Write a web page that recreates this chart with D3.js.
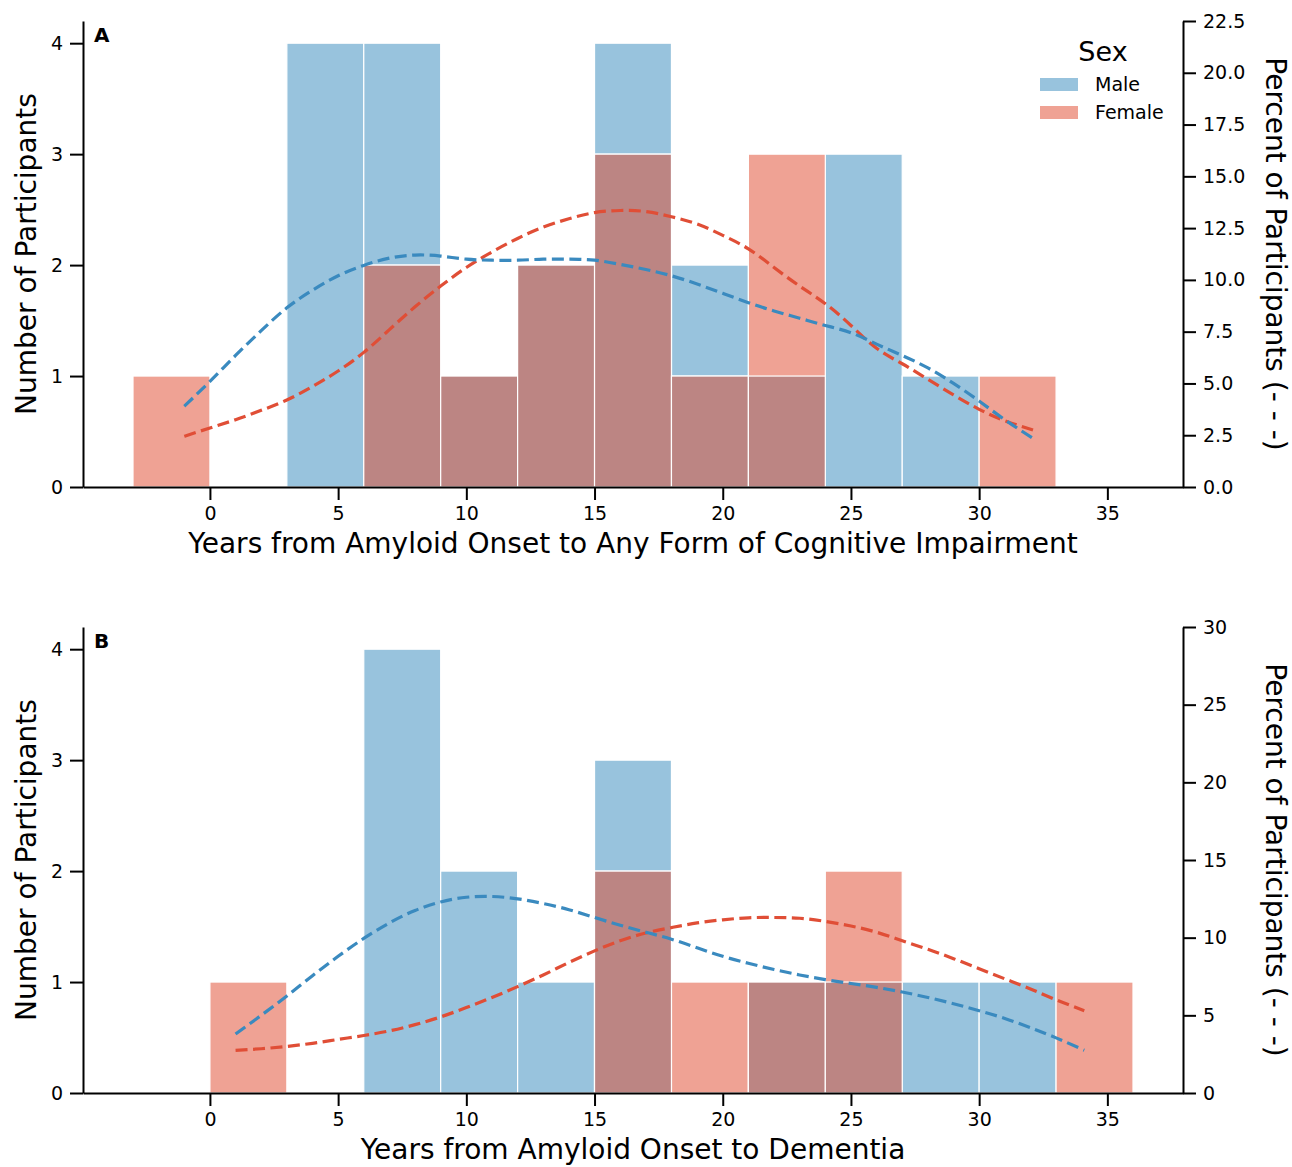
<!DOCTYPE html>
<html>
<head>
<meta charset="utf-8">
<script src="https://cdn.jsdelivr.net/npm/d3@7"></script>
<style>
  body { margin: 0; background: #fff; }
  text { font-family: "DejaVu Sans", sans-serif; fill: #000; }
</style>
</head>
<body>
<svg id="chart" width="1292" height="1167"></svg>
<script>
// histogram bins are 3 years wide
var binWidth = 3;

// panel A: any form of cognitive impairment
var binStartA = [-3, 0, 3, 6, 9, 12, 15, 18, 21, 24, 27, 30];
var maleCountA = [0, 0, 4, 4, 1, 2, 4, 2, 1, 3, 1, 0];
var femaleCountA = [1, 0, 0, 2, 1, 2, 3, 1, 3, 0, 0, 1];
var kdeMaleXA = [-1, 0, 1, 2, 3, 4, 5, 6, 7, 8, 9, 10, 11, 12, 13, 14, 15, 16, 17, 18, 19, 20, 21, 22, 23, 24, 25, 26, 27, 28, 29, 30, 31, 32.1];
var kdeMaleA = [3.9, 5.1, 6.35, 7.55, 8.65, 9.5, 10.2, 10.7, 11.05, 11.2, 11.15, 11.0, 10.95, 10.95, 11.0, 11.0, 10.95, 10.75, 10.5, 10.2, 9.8, 9.35, 8.9, 8.5, 8.15, 7.8, 7.45, 6.9, 6.35, 5.75, 5.0, 4.15, 3.25, 2.35];
var kdeFemaleXA = [-1, 0, 1, 2, 3, 4, 5, 6, 7, 8, 9, 10, 11, 12, 13, 14, 15, 16, 17, 18, 19, 20, 21, 22, 23, 24, 25, 26, 27, 28, 29, 30, 31, 32.1];
var kdeFemaleA = [2.45, 2.85, 3.25, 3.7, 4.2, 4.85, 5.6, 6.5, 7.6, 8.7, 9.7, 10.6, 11.35, 12.0, 12.55, 12.95, 13.25, 13.35, 13.3, 13.05, 12.7, 12.15, 11.5, 10.6, 9.7, 8.85, 7.8, 6.7, 5.95, 5.2, 4.45, 3.75, 3.2, 2.75];
var pctTicksA = [0, 2.5, 5, 7.5, 10, 12.5, 15, 17.5, 20, 22.5];

// panel B: dementia
var binStartB = [0, 3, 6, 9, 12, 15, 18, 21, 24, 27, 30, 33];
var maleCountB = [0, 0, 4, 2, 1, 3, 0, 1, 1, 1, 1, 0];
var femaleCountB = [1, 0, 0, 0, 0, 2, 1, 1, 2, 0, 0, 1];
var kdeMaleXB = [1, 2, 3, 4, 5, 6, 7, 8, 9, 10, 11, 12, 13, 14, 15, 16, 17, 18, 19, 20, 21, 22, 23, 24, 25, 26, 27, 28, 29, 30, 31, 32, 33, 34.1];
var kdeMaleB = [3.8, 5.0, 6.25, 7.55, 8.8, 9.95, 10.95, 11.75, 12.3, 12.6, 12.65, 12.5, 12.2, 11.8, 11.3, 10.8, 10.35, 9.9, 9.35, 8.8, 8.35, 7.95, 7.6, 7.3, 7.05, 6.8, 6.5, 6.15, 5.75, 5.3, 4.8, 4.2, 3.55, 2.75];
var kdeFemaleXB = [1, 2, 3, 4, 5, 6, 7, 8, 9, 10, 11, 12, 13, 14, 15, 16, 17, 18, 19, 20, 21, 22, 23, 24, 25, 26, 27, 28, 29, 30, 31, 32, 33, 34.1];
var kdeFemaleB = [2.75, 2.85, 3.0, 3.2, 3.45, 3.7, 4.0, 4.4, 4.9, 5.5, 6.15, 6.85, 7.6, 8.4, 9.15, 9.8, 10.3, 10.65, 10.95, 11.15, 11.28, 11.3, 11.25, 11.05, 10.75, 10.35, 9.8, 9.25, 8.65, 8.0, 7.35, 6.7, 6.0, 5.3];
var pctTicksB = [0, 5, 10, 15, 20, 25, 30];

var countTicks = [0, 1, 2, 3, 4];
var yearTicks = [0, 5, 10, 15, 20, 25, 30, 35];
var sexLabels = ["Male", "Female"];

var colors = {
    maleBar: "#98c3dd",
    femaleBar: "#efa294",
    both: "#bc8583",
    maleLine: "#3a8abf",
    femaleLine: "#e04e36"
};

var svg = d3.select("#chart");
var left = 83, right = 1183;

var x = d3.scaleLinear().domain([-4.95, 37.95]).range([left, right]);

function drawPanel(p) {
    var g = svg.append("g");
    var y = d3.scaleLinear().domain([0, 4.2]).range([p.bottom, p.top]);
    var yPct = d3.scaleLinear().domain([0, p.pctMax]).range([p.bottom, p.top]);

    var bins = p.starts.map(function (s, i) {
        return { x0: s, x1: s + binWidth, m: p.male[i], f: p.female[i] };
    });

    function bars(cls, val, fill) {
        g.append("g")
            .selectAll("rect")
            .data(bins.filter(function (d) { return val(d) > 0; }))
            .join("rect")
            .attr("class", cls)
            .attr("x", function (d) { return x(d.x0); })
            .attr("width", function (d) { return x(d.x1) - x(d.x0); })
            .attr("y", function (d) { return y(val(d)); })
            .attr("height", function (d) { return y(0) - y(val(d)); })
            .attr("fill", fill)
            .attr("stroke", "white")
            .attr("stroke-width", 1.2);
    }
    bars("male", function (d) { return d.m; }, colors.maleBar);
    bars("female", function (d) { return d.f; }, colors.femaleBar);
    bars("both", function (d) { return Math.min(d.m, d.f); }, colors.both);

    var line = d3.line()
        .x(function (d) { return x(d[0]); })
        .y(function (d) { return yPct(d[1]); })
        .curve(d3.curveNatural);

    [[p.kdeFx, p.kdeF, colors.femaleLine], [p.kdeMx, p.kdeM, colors.maleLine]].forEach(function (s) {
        g.append("path")
            .datum(d3.zip(s[0], s[1]))
            .attr("d", line)
            .attr("fill", "none")
            .attr("stroke", s[2])
            .attr("stroke-width", 3.2)
            .attr("stroke-dasharray", "12,5.5");
    });

    // axes
    var ax = [
        g.append("g").attr("transform", "translate(0," + p.bottom + ")")
            .call(d3.axisBottom(x).tickValues(yearTicks).tickSize(13).tickSizeOuter(0).tickPadding(7)),
        g.append("g").attr("transform", "translate(" + left + ",0)")
            .call(d3.axisLeft(y).tickValues(countTicks).tickFormat(d3.format("d"))
                .tickSize(13).tickSizeOuter(0).tickPadding(7)),
        g.append("g").attr("transform", "translate(" + right + ",0)")
            .call(d3.axisRight(yPct).tickValues(p.pctTicks).tickFormat(d3.format(p.pctFmt))
                .tickSize(13).tickSizeOuter(0).tickPadding(7))
    ];
    ax.forEach(function (a) {
        a.selectAll("path, line").attr("stroke", "#000").attr("stroke-width", 2);
        a.selectAll("text").attr("font-size", 19).attr("font-family", "DejaVu Sans").attr("fill", "#000");
    });

    var mid = (p.top + p.bottom) / 2;
    g.append("text")
        .attr("transform", "translate(26," + mid + ") rotate(-90)")
        .attr("text-anchor", "middle").attr("dy", "0.35em")
        .attr("font-size", 28)
        .text("Number of Participants");
    g.append("text")
        .attr("transform", "translate(1276," + mid + ") rotate(90)")
        .attr("text-anchor", "middle").attr("dy", "0.35em")
        .attr("font-size", 28)
        .text("Percent of Participants (- - -)");
    g.append("text")
        .attr("x", (left + right) / 2).attr("y", p.bottom + 66)
        .attr("text-anchor", "middle")
        .attr("font-size", 28)
        .text(p.xLabel);
    g.append("text")
        .attr("x", 94).attr("y", p.top + 21)
        .attr("font-size", 20).attr("font-weight", "bold")
        .text(p.letter);

    if (p.legend) {
        var lg = g.append("g").attr("transform", "translate(1040,0)");
        lg.append("text").attr("x", 63).attr("y", 61)
            .attr("text-anchor", "middle").attr("font-size", 27).text("Sex");
        lg.selectAll("rect.key")
            .data(sexLabels)
            .join("rect")
            .attr("class", "key")
            .attr("x", 0).attr("y", function (d, i) { return 78 + i * 28; })
            .attr("width", 38).attr("height", 13)
            .attr("fill", function (d, i) { return i === 0 ? colors.maleBar : colors.femaleBar; });
        lg.selectAll("text.key")
            .data(sexLabels)
            .join("text")
            .attr("class", "key")
            .attr("x", 55).attr("y", function (d, i) { return 91 + i * 28; })
            .attr("font-size", 19)
            .text(function (d) { return d; });
    }
}

drawPanel({
    top: 21, bottom: 487, pctMax: 22.5, pctTicks: pctTicksA, pctFmt: ".1f",
    starts: binStartA, male: maleCountA, female: femaleCountA,
    kdeMx: kdeMaleXA, kdeM: kdeMaleA, kdeFx: kdeFemaleXA, kdeF: kdeFemaleA,
    xLabel: "Years from Amyloid Onset to Any Form of Cognitive Impairment",
    letter: "A", legend: true
});

drawPanel({
    top: 627, bottom: 1093, pctMax: 30, pctTicks: pctTicksB, pctFmt: "d",
    starts: binStartB, male: maleCountB, female: femaleCountB,
    kdeMx: kdeMaleXB, kdeM: kdeMaleB, kdeFx: kdeFemaleXB, kdeF: kdeFemaleB,
    xLabel: "Years from Amyloid Onset to Dementia",
    letter: "B", legend: false
});
</script>
</body>
</html>
